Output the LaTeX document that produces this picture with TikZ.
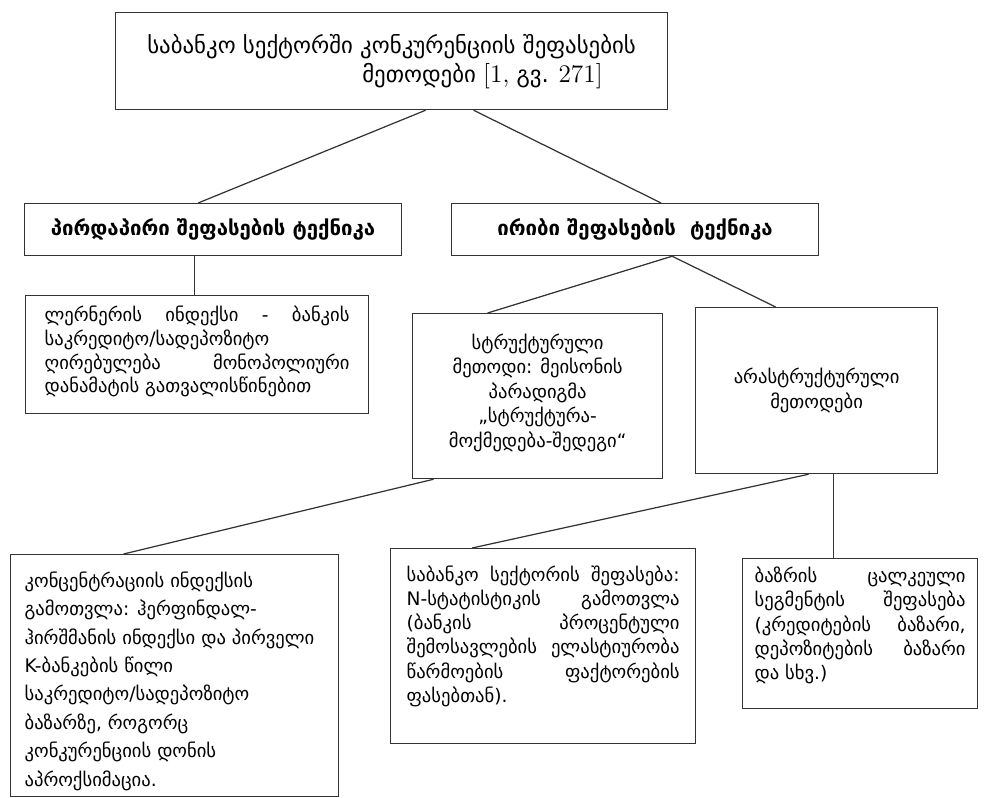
\documentclass[tikz,border=0pt]{standalone}
\usepackage{fontspec}
\newfontfamily\geo{DejaVu Sans}
\usetikzlibrary{positioning}

\newlength\px
\setlength\px{0.02cm}
% text block of a box: [inner pos]{height}{width}{baselineskip}{text}
\newcommand{\boxpar}[5][t]{\parbox[t][#2\px][#1]{#3\px}{\geo\fontsize{10.6}{#4}\selectfont #5}}

\begin{document}
\begin{tikzpicture}[x=0.02cm, y=-0.02cm,
  box/.style={draw=black!80, line width=0.7pt, inner xsep=18\px, inner ysep=8\px, anchor=north west},
  head/.style={draw=black!80, line width=0.7pt, inner sep=0pt, anchor=north west,
    font=\geo\bfseries\fontsize{11.6}{13}\selectfont},
  link/.style={draw=black!80, line width=0.7pt}]
\useasboundingbox (0,0) rectangle (985,798);

\node[head, minimum width=552\px, minimum height=97\px, align=left,
  font=\geo\fontsize{13}{16.5}\selectfont] (title) at (115,12)
  {საბანკო სექტორში კონკურენციის შეფასების\\
   \hspace*{215\px}მეთოდები {\rmfamily\Large[1,} გვ. {\rmfamily\Large 271]}};

\node[head, minimum width=377\px, minimum height=52\px] (direct) at (24,203)
  {პირდაპირი შეფასების ტექნიკა};
\node[head, minimum width=367\px, minimum height=52\px] (indirect) at (451,203)
  {ირიბი შეფასების\ \ ტექნიკა};

\node[box, inner xsep=19\px, inner ysep=10\px] (lerner) at (25,295)
  {\boxpar{98}{305}{13.6}{ლერნერის ინდექსი - ბანკის\linebreak
   საკრედიტო/სადეპოზიტო\\
   ღირებულება მონოპოლიური\linebreak
   დანამატის გათვალისწინებით}};
\node[box] (struct) at (412,313)
  {\boxpar[c]{149}{214}{13.9}{\centering სტრუქტურული\\
   მეთოდი: მეისონის\\ პარადიგმა\\ „სტრუქტურა-\\ მოქმედება-შედეგი“\\[4pt]}};
\node[box] (nonstruct) at (695,307)
  {\boxpar[c]{150}{206}{13.9}{\centering არასტრუქტურული\\ მეთოდები}};

\node[box, inner xsep=14\px, inner ysep=17\px] (conc) at (10,554)
  {\boxpar{208}{300}{16.2}{\raggedright კონცენტრაციის ინდექსის\\
   გამოთვლა: ჰერფინდალ-\\
   ჰირშმანის ინდექსი და პირველი\\
   K-ბანკების წილი\\
   საკრედიტო/სადეპოზიტო\\
   ბაზარზე, როგორც\\
   კონკურენციის დონის\\
   აპროქსიმაცია.}};
\node[box, inner xsep=16\px, inner ysep=17\px] (nstat) at (390,548)
  {\boxpar{161}{273}{13.8}{საბანკო სექტორის შეფასება:\linebreak
   N-სტატისტიკის გამოთვლა\linebreak
   (ბანკის პროცენტული\linebreak
   შემოსავლების ელასტიურობა\linebreak
   წარმოების ფაქტორების\linebreak
   ფასებთან).}};
\node[box, inner xsep=12\px, inner ysep=8\px] (segment) at (742,558)
  {\boxpar{134}{211}{13.9}{ბაზრის ცალკეული\linebreak
   სეგმენტის შეფასება\linebreak
   (კრედიტების ბაზარი,\linebreak
   დეპოზიტების ბაზარი\linebreak
   და სხვ.)}};

\draw[link] ([xshift=34\px]title.south) -- ([xshift=-15\px]direct.north);
\draw[link] ([xshift=82\px]title.south) -- ([xshift=26\px]indirect.north);
\draw[link] ([xshift=-19\px]direct.south) -- ([xshift=-19\px]direct.south |- lerner.north);
\draw[link] ([xshift=37\px]indirect.south) -- ([xshift=-50\px]struct.north);
\draw[link] ([xshift=37\px]indirect.south) -- ([xshift=-41\px]nonstruct.north);
\draw[link] ([xshift=-104\px]struct.south) -- ([xshift=-51\px]conc.north);
\draw[link] ([xshift=-8\px]nonstruct.south) -- ([xshift=-71\px]nstat.north);
\draw[link] ([xshift=17\px]nonstruct.south) -- ([xshift=17\px]nonstruct.south |- segment.north);

\end{tikzpicture}
\end{document}
